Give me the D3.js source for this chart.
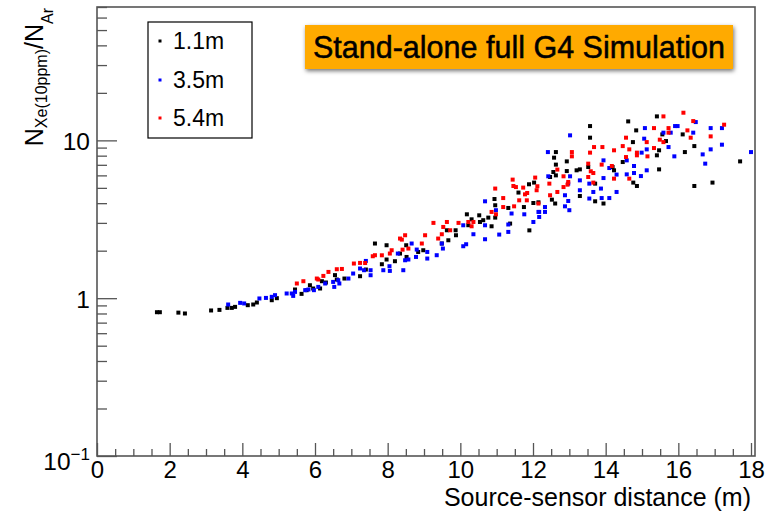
<!DOCTYPE html>
<html>
<head>
<meta charset="utf-8">
<script src="https://cdn.jsdelivr.net/npm/d3@7"></script>
<style>
html,body{margin:0;padding:0;background:#fff;}
svg{display:block;font-family:"Liberation Sans",Arial,Helvetica,sans-serif;}
</style>
</head>
<body>
<svg id="chart" width="778" height="514"></svg>
<script>
// ---------- data ----------
const seriesNames = ["1.1m", "3.5m", "5.4m"];
const seriesColors = ["#000000", "#0000ff", "#ff0000"];

const dist11 = [1.65,1.73,2.24,2.42,3.14,3.37,3.59,3.71,3.80,4.15,
  4.30,4.40,4.81,4.95,5.45,5.63,5.77,5.86,5.95,6.19,
  6.14,6.55,6.30,6.60,6.81,7.24,7.40,7.65,7.84,7.97,
  7.97,8.20,8.34,8.51,8.52,8.84,8.98,9.49,9.67,9.87,
  9.63,9.88,10.18,10.22,10.31,10.52,10.54,10.63,10.77,10.86,
  10.94,10.96,10.96,11.32,11.37,11.60,11.75,11.89,11.90,12.01,
  12.15,12.47,12.52,12.56,12.61,12.63,12.58,12.63,12.93,12.03,
  12.63,12.93,13.20,13.29,13.29,13.52,13.57,13.57,13.71,13.94,
  13.71,14.19,14.23,14.47,14.62,14.75,14.84,14.76,14.86,15.41,
  15.56,15.66,15.47,15.41,15.47,16.12,16.18,16.44,16.44,16.94,
  17.70];
const ratio11 = [0.815,0.815,0.81,0.80,0.836,0.843,0.868,0.868,0.881,0.903,
  0.912,0.939,0.971,1.00,1.135,1.065,1.124,1.208,1.152,1.281,
  1.152,1.40,1.257,1.313,1.332,1.378,1.519,2.22,1.641,1.758,
  2.165,1.715,1.918,2.165,1.825,1.963,2.013,2.22,2.328,2.694,
  2.694,2.505,3.40,2.90,3.16,3.35,3.04,3.12,3.24,2.855,
  4.25,3.88,3.24,3.73,2.97,4.67,3.78,5.27,2.69,4.01,
  4.05,5.86,4.21,6.30,3.98,7.02,7.77,8.43,6.39,5.40,
  6.00,7.36,6.46,6.55,4.44,6.78,12.32,10.40,5.32,3.98,
  4.11,6.78,6.46,7.29,13.19,9.75,11.57,5.40,5.14,14.19,
  10.91,9.90,8.65,8.04,6.55,10.91,8.43,9.20,5.14,5.40,
  7.36];

const dist35 = [3.61,3.94,4.05,4.47,4.65,4.81,4.90,5.22,5.36,5.40,
  5.45,5.73,5.82,5.97,6.09,6.28,6.50,6.53,6.64,6.67,
  6.92,7.05,7.24,7.35,7.40,7.53,7.53,7.88,8.05,8.06,
  8.28,8.43,8.48,8.57,8.66,8.78,8.80,9.09,9.09,9.35,
  9.49,9.52,10.08,10.08,10.16,10.36,10.68,10.68,10.68,10.98,
  11.07,11.32,11.32,11.41,11.76,12.01,12.15,12.33,12.33,12.41,
  12.42,12.88,12.88,12.97,13.00,13.02,13.02,12.97,12.17,12.17,
  13.29,13.29,13.55,13.55,13.66,13.87,13.89,13.94,13.94,14.10,
  14.10,14.30,14.30,14.58,14.58,14.78,14.78,14.97,14.99,15.06,
  15.08,15.13,15.13,15.59,15.79,15.91,15.98,15.73,15.89,16.48,
  16.41,16.67,16.74,16.89,16.89,17.20,17.20,18.00];
const ratio35 = [0.912,0.934,0.926,0.996,1.004,1.02,1.045,1.071,1.071,1.034,
  1.096,1.124,1.135,1.124,1.179,1.239,1.268,1.179,1.30,1.239,
  1.332,1.433,1.542,1.504,1.722,1.398,1.504,1.504,1.594,1.489,
  1.918,1.504,1.739,1.758,2.22,1.825,2.033,1.963,1.783,1.872,
  2.22,2.063,2.897,2.134,2.197,2.542,4.11,2.897,2.363,3.61,
  2.53,2.93,2.63,3.44,3.40,3.04,3.52,3.78,3.52,8.43,
  5.92,4.49,3.82,4.13,3.61,10.76,5.92,5.32,3.52,3.27,
  5.58,4.83,5.32,4.28,4.71,4.95,4.31,7.47,5.77,6.68,
  4.31,6.07,4.71,7.47,6.09,6.88,6.21,5.94,8.36,10.25,
  11.96,8.77,6.46,11.19,11.19,12.32,12.32,9.07,7.92,13.06,
  11.19,8.15,7.12,11.96,8.77,11.96,9.39,8.43];

const dist54 = [5.50,5.68,6.05,6.23,6.37,6.60,6.09,6.74,7.07,7.24,
  7.38,7.59,7.65,7.84,8.06,8.11,8.34,8.39,8.41,8.48,
  8.57,8.94,9.03,9.26,9.39,9.49,9.53,9.63,9.72,9.95,
  10.22,10.31,10.36,10.86,10.96,10.98,11.18,11.18,11.44,11.46,
  11.48,11.53,11.62,11.73,11.78,11.83,11.84,12.06,12.10,12.12,
  12.15,12.45,12.47,12.67,12.67,12.84,12.97,12.84,13.07,13.07,
  12.95,13.52,13.52,13.59,13.66,13.66,13.68,13.57,13.91,13.89,
  14.17,14.23,14.23,14.47,14.56,14.56,14.65,14.65,14.86,14.86,
  15.13,15.15,15.59,16.14,16.41,15.73,15.73,15.33,15.49,15.59,
  15.33,16.25,16.34,16.89,17.26];
const ratio54 = [1.239,1.281,1.332,1.384,1.467,1.526,1.313,1.532,1.658,1.673,
  1.67,1.844,1.872,1.87,1.918,2.013,2.387,2.35,2.03,2.505,
  2.063,2.22,2.505,3.00,2.387,2.542,2.827,3.04,2.694,3.00,
  3.04,2.855,3.04,3.52,4.95,3.40,4.31,3.78,5.64,5.14,
  3.82,5.06,4.17,5.02,4.55,4.17,4.64,5.81,4.83,5.12,
  3.98,5.32,4.49,4.71,6.53,5.06,5.45,5.92,8.43,7.92,
  5.24,7.12,5.86,6.37,6.21,5.40,9.07,8.36,9.07,7.02,
  6.88,8.65,5.72,9.20,10.40,7.84,8.77,5.72,8.36,8.04,
  9.75,7.92,14.19,14.97,13.25,11.96,11.19,11.96,10.10,9.75,
  8.94,11.57,10.40,10.60,12.57];

const xMajorTicks = [0,2,4,6,8,10,12,14,16,18];
const yMajorTicks = [0.1,1,10];
const yMinorTicks = [0.2,0.3,0.4,0.5,0.6,0.7,0.8,0.9,2,3,4,5,6,7,8,9,20,30,40,50,60,70];
const xTitle = "Source-sensor distance (m)";
const boxTitle = "Stand-alone full G4 Simulation";
const xDomain = [0, 18.11];
const yDomain = [0.1, 70];

// ---------- layout ----------
const W = 778, H = 514;
const margin = {left: 97, top: 7, right: 23, bottom: 58};
const pw = W - margin.left - margin.right;
const ph = H - margin.top - margin.bottom;

const svg = d3.select("#chart");
const x = d3.scaleLinear().domain(xDomain).range([margin.left, margin.left + pw]);
const y = d3.scaleLog().domain(yDomain).range([margin.top + ph, margin.top]);

const axisColor = "#555";

// defs: shadow
const defs = svg.append("defs");
const f = defs.append("filter").attr("id","shadow").attr("x","-10%").attr("y","-30%").attr("width","120%").attr("height","170%");
f.append("feDropShadow").attr("dx",1).attr("dy",2).attr("stdDeviation",2.2).attr("flood-color","#000").attr("flood-opacity",0.55);

// points
const series = [
  {xs: dist11, ys: ratio11, c: seriesColors[0]},
  {xs: dist35, ys: ratio35, c: seriesColors[1]},
  {xs: dist54, ys: ratio54, c: seriesColors[2]}
];
const ms = 4;
series.forEach(s => {
  const pts = s.xs.map((d,i) => [d, s.ys[i]]);
  svg.append("g").selectAll("rect").data(pts).join("rect")
    .attr("x", d => x(d[0]) - ms/2)
    .attr("y", d => y(d[1]) - ms/2)
    .attr("width", ms).attr("height", ms)
    .attr("fill", s.c);
});

// frame
svg.append("rect")
  .attr("x", margin.left).attr("y", margin.top)
  .attr("width", pw).attr("height", ph)
  .attr("fill","none").attr("stroke",axisColor).attr("stroke-width",1.6);

// x axis
const xMinor = d3.range(0, 18.01, 0.5).filter(v => Math.abs(v/2 - Math.round(v/2)) > 1e-6);
const gxMinor = svg.append("g").attr("transform",`translate(0,${margin.top+ph})`)
  .call(d3.axisBottom(x).tickValues(xMinor).tickSize(-7).tickFormat(""));
const gx = svg.append("g").attr("transform",`translate(0,${margin.top+ph})`)
  .call(d3.axisBottom(x).tickValues(xMajorTicks).tickSize(-13).tickPadding(5).tickFormat(d3.format("d")));
[gxMinor, gx].forEach(g => {
  g.select(".domain").remove();
  g.selectAll(".tick line").attr("stroke",axisColor).attr("stroke-width",1.3);
});
gx.selectAll(".tick text").attr("font-size",24).attr("fill","#000")
  .attr("font-family",'"Liberation Sans",Arial,sans-serif');

// y axis
const gyMinor = svg.append("g").attr("transform",`translate(${margin.left},0)`)
  .call(d3.axisLeft(y).tickValues(yMinorTicks).tickSize(-10).tickFormat(""));
const gy = svg.append("g").attr("transform",`translate(${margin.left},0)`)
  .call(d3.axisLeft(y).tickValues(yMajorTicks).tickSize(-20).tickPadding(8).tickFormat(""));
[gyMinor, gy].forEach(g => {
  g.select(".domain").remove();
  g.selectAll(".tick line").attr("stroke",axisColor).attr("stroke-width",1.3);
});
gy.selectAll(".tick").each(function(d){
  const t = d3.select(this).append("text")
    .attr("x", -7).attr("dy","0.36em")
    .attr("text-anchor","end").attr("fill","#000")
    .attr("font-size",24.5);
  if (d === 0.1) {
    t.attr("dy","0.55em");
    t.append("tspan").text("10");
    t.append("tspan").attr("font-size",17).attr("dy",-10).text("\u22121");
  } else {
    t.text(d3.format("d")(d));
  }
});

// x title
svg.append("text")
  .attr("x", x(18)).attr("y", 506)
  .attr("text-anchor","end").attr("font-size",25).attr("fill","#000")
  .text(xTitle);

// y title
const yt = svg.append("text")
  .attr("transform","translate(43,8) rotate(-90)")
  .attr("text-anchor","end").attr("font-size",25).attr("fill","#000");
yt.append("tspan").text("N");
yt.append("tspan").attr("font-size",16).attr("dy",4).text("Xe(10ppm)");
yt.append("tspan").attr("font-size",25).attr("dy",-4).text("/N");
yt.append("tspan").attr("font-size",16).attr("dy",10).text("Ar");

// legend
const lg = svg.append("g");
lg.append("rect").attr("x",148).attr("y",22).attr("width",104).attr("height",116)
  .attr("fill","#fff").attr("stroke","#000").attr("stroke-width",1.2);
const legY = [41, 80, 118];
seriesNames.forEach((n,i) => {
  lg.append("rect").attr("x",160-1.5).attr("y",legY[i]-1.5).attr("width",3).attr("height",3).attr("fill",seriesColors[i]);
  lg.append("text").attr("x",173).attr("y",legY[i]).attr("dy","0.36em")
    .attr("font-size",23).attr("fill","#000").text(n);
});

// title box
const tb = svg.append("g");
tb.append("rect").attr("x",305).attr("y",25).attr("width",428).attr("height",44)
  .attr("fill","#ffaa00").attr("filter","url(#shadow)");
tb.append("text").attr("x",519).attr("y",58).attr("text-anchor","middle")
  .attr("font-size",30.5).attr("fill","#000").attr("stroke","#000").attr("stroke-width",0.5)
  .text(boxTitle);
</script>
</body>
</html>
